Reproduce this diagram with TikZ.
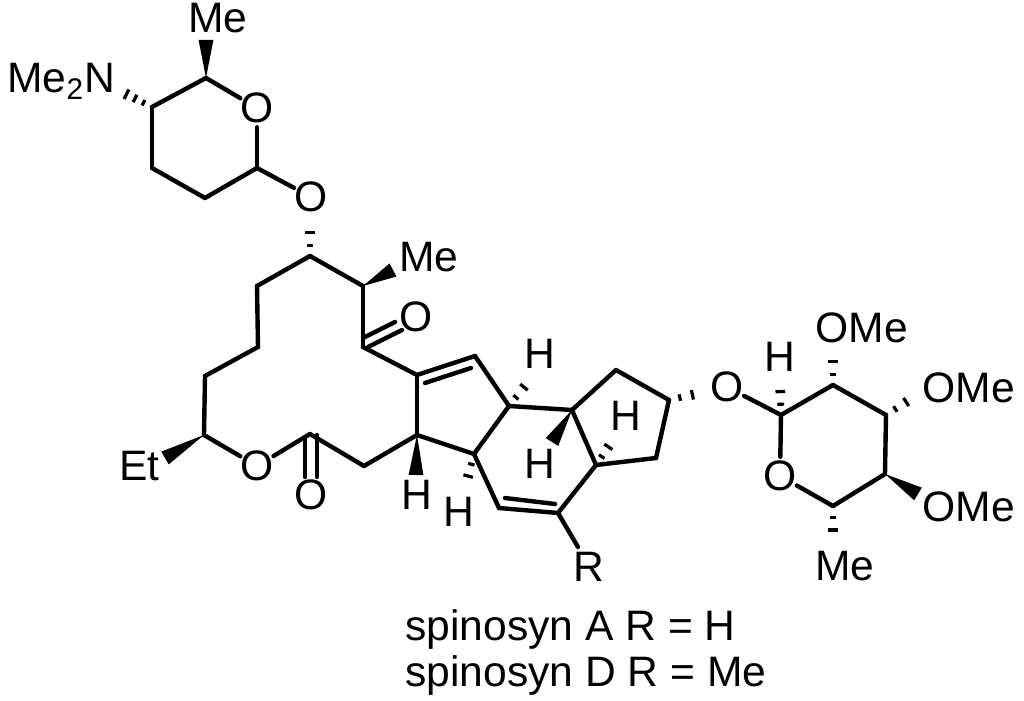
\documentclass[tikz,border=0pt]{standalone}
\usepackage{fontspec}
\setmainfont{Liberation Sans}
\usepackage{tikz}
\usetikzlibrary{calc}
\tikzset{atom/.style={circle,inner sep=0pt,outer sep=-1.5pt,font=\fontsize{21.3}{25}\selectfont},
	label node/.style={inner sep=0pt,anchor=base west,font=\fontsize{21.3}{25}\selectfont},
	bond/.style={line width=2.2pt,line cap=round},
	hash line/.style={line width=1.6pt}}
\newcommand{\wedgebond}[2]{\fill (#1) -- ($(#2)!3.7pt!90:(#1)$) -- ($(#2)!3.7pt!-90:(#1)$) -- cycle;}
\newcommand{\hashbond}[3][0.3,0.65,1]{\foreach \t in {#1}{
	\coordinate (p) at ($(#2)!\t!(#3)$);
	\draw[hash line] ($(p)!1pt+\t*2.2pt!90:(#3)$) -- ($(p)!1pt+\t*2.2pt!-90:(#3)$);}}
\begin{document}
\begin{tikzpicture}[x=0.5pt, y=-0.5pt]
	\useasboundingbox (0,0) rectangle (1024,701);

	\coordinate (f5) at (206,78);
	\coordinate (f4) at (152,107);
	\coordinate (f3) at (152,168);
	\coordinate (f2) at (205,198);
	\coordinate (f1) at (257,168);
	\node[atom] (fo) at (257,108) {O};
	\node[atom] (bo) at (311,197) {O};
	\coordinate (meup) at (206,40);
	\coordinate (nend) at (118,90);
	\node[label node] (me1) at (188,33) {Me};
	\node[label node] (nme) at (7,93) {Me\textsubscript{2}N};

	\coordinate (m1) at (310,256);
	\coordinate (m2) at (363,286);
	\coordinate (m3) at (363,347);
	\coordinate (m4) at (417,375);
	\coordinate (m5) at (417,435);
	\coordinate (m6) at (364,466);
	\coordinate (m7) at (310,434);
	\node[atom] (eo) at (257,466) {O};
	\coordinate (m8) at (204,435);
	\coordinate (m9) at (205,376);
	\coordinate (m10) at (258,347);
	\coordinate (m11) at (257,286);
	\coordinate (hbo) at (310,220);
	\coordinate (meend) at (393,270);
	\coordinate (etend) at (165,458);
	\node[label node] (me2) at (399,271) {Me};
	\node[label node] (et) at (119,480) {Et};
	\node[atom] (ko) at (416,317) {O};
	\node[atom] (lo) at (311,495) {O};
	\coordinate (k1) at (363,338);
	\coordinate (k2) at (395,322);
	\coordinate (k3) at (368,347);
	\coordinate (k4) at (402,330);
	\coordinate (l1) at (305,437);
	\coordinate (l2) at (305,477);
	\coordinate (l3) at (317,435);
	\coordinate (l4) at (317,477);

	\coordinate (r1) at (475,356);
	\coordinate (r2) at (509,406);
	\coordinate (r3) at (474,454);
	\coordinate (r4) at (572,410);
	\coordinate (r5) at (616,370);
	\coordinate (r6) at (669,400);
	\coordinate (r7) at (656,458);
	\coordinate (r8) at (596,465);
	\coordinate (r9) at (558,513);
	\coordinate (r10) at (499,508);
	\coordinate (d1) at (425,383);
	\coordinate (d2) at (471,368);
	\coordinate (d3) at (505,498);
	\coordinate (d4) at (555,504);
	\coordinate (rend) at (578,547);
	\node[atom] (rr) at (589,567) {R};
	\node[atom] (h1) at (417,495) {H};
	\node[atom] (h2) at (459,512) {H};
	\node[atom] (h3) at (540,354) {H};
	\node[atom] (h4) at (540,464) {H};
	\node[atom] (h5) at (626,416) {H};
	\coordinate (h1end) at (416,475);
	\coordinate (h2end) at (465,488);
	\coordinate (h3end) at (532,377);
	\coordinate (h4end) at (552,442);
	\coordinate (h5end) at (615,437);

	\node[atom] (go) at (727,387) {O};
	\coordinate (goend) at (705,392);
	\coordinate (s1) at (781,415);
	\coordinate (s2) at (833,385);
	\coordinate (s3) at (886,415);
	\coordinate (s4) at (885,474);
	\coordinate (s5) at (833,506);
	\node[atom] (so) at (780,476) {O};
	\node[atom] (h6) at (780,357) {H};
	\coordinate (h6end) at (780,379);
	\coordinate (o2end) at (833,349);
	\coordinate (o3end) at (917,395);
	\coordinate (o4end) at (918,494);
	\coordinate (me3end) at (833,543);
	\node[label node] (ome1) at (815,343) {OMe};
	\node[label node] (ome2) at (922,402) {OMe};
	\node[label node] (ome3) at (922,521) {OMe};
	\node[label node] (me3) at (815,580) {Me};

	\node[label node] (capa) at (405,640) {spinosyn A R = H};
	\node[label node] (capd) at (405,686) {spinosyn D R = Me};

	\path[draw,bond]
	(f5) edge (f4)
	(f4) edge (f3)
	(f3) edge (f2)
	(f2) edge (f1)
	(f1) edge (fo)
	(fo) edge (f5)
	(f1) edge (bo)
	(m1) edge (m2)
	(m2) edge (m3)
	(m3) edge (m4)
	(m4) edge (m5)
	(m5) edge (m6)
	(m6) edge (m7)
	(m7) edge (eo)
	(eo) edge (m8)
	(m8) edge (m9)
	(m9) edge (m10)
	(m10) edge (m11)
	(m11) edge (m1)
	(k1) edge (k2)
	(k3) edge (k4)
	(l1) edge (l2)
	(l3) edge (l4)
	(m4) edge (r1)
	(d1) edge (d2)
	(r1) edge (r2)
	(r2) edge (r3)
	(r3) edge (m5)
	(r2) edge (r4)
	(r4) edge (r5)
	(r5) edge (r6)
	(r6) edge (r7)
	(r7) edge (r8)
	(r8) edge (r4)
	(r8) edge (r9)
	(r9) edge (r10)
	(r10) edge (r3)
	(d3) edge (d4)
	(r9) edge (rend)
	(go) edge (s1)
	(s1) edge (s2)
	(s2) edge (s3)
	(s3) edge (s4)
	(s4) edge (s5)
	(s5) edge (so)
	(so) edge (s1);

	\wedgebond{f5}{meup}
	\wedgebond{m2}{meend}
	\wedgebond{m8}{etend}
	\wedgebond{m5}{h1end}
	\wedgebond{r4}{h4end}
	\wedgebond{s4}{o4end}

	\hashbond[0.25,0.5,0.75,1]{f4}{nend}
	\hashbond{m1}{hbo}
	\hashbond{r3}{h2end}
	\hashbond{r2}{h3end}
	\hashbond{r8}{h5end}
	\hashbond{r6}{goend}
	\hashbond{s1}{h6end}
	\hashbond{s2}{o2end}
	\hashbond{s3}{o3end}
	\hashbond{s5}{me3end}
\end{tikzpicture}
\end{document}
